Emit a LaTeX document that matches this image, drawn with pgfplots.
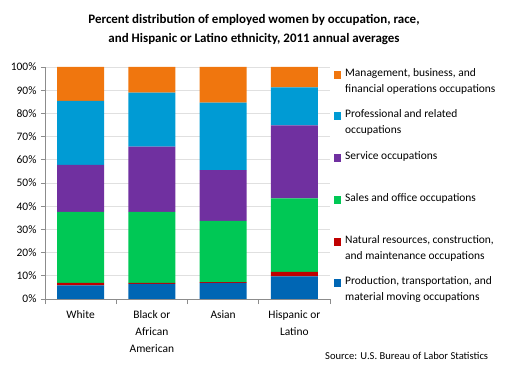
\documentclass[border=0pt]{standalone}
\usepackage{pgfplots}
\pgfplotsset{compat=1.18}
\usepackage{fontspec}
\setmainfont{Carlito}
\definecolor{cMgmt}{HTML}{F0760E}
\definecolor{cProf}{HTML}{009BD4}
\definecolor{cServ}{HTML}{7030A0}
\definecolor{cSales}{HTML}{00C855}
\definecolor{cNat}{HTML}{C00000}
\definecolor{cProd}{HTML}{0066B4}
\definecolor{axgray}{HTML}{8C8C8C}
\begin{document}
\begin{tikzpicture}
\path[use as bounding box] (0bp,0bp) rectangle (508bp,375bp);
\node[font=\bfseries\fontsize{13}{19}\selectfont, align=center] at (254bp,345bp)
  {Percent distribution of employed women by occupation, race,\\and Hispanic or Latino ethnicity, 2011 annual averages};
\begin{axis}[
  at={(45bp,76bp)}, anchor=south west,
  width=285bp, height=232bp, scale only axis,
  ybar stacked, bar width=47bp,
  xmin=-0.5, xmax=3.5, ymin=0, ymax=100,
  xtick={0,1,2,3},
  xticklabels={White, Black or\\African\\American, Asian, Hispanic or\\Latino},
  xticklabel style={align=center, font=\fontsize{11.5}{17}\selectfont, yshift=-4bp},
  major x tick style={draw=none},
  minor xtick={-0.5,0.5,1.5,2.5,3.5},
  minor tick length=5bp,
  major tick length=4bp,
  tick align=outside,
  ytick={0,10,...,100},
  yticklabel={\pgfmathprintnumber{\tick}\%},
  yticklabel style={font=\fontsize{11.5}{12}\selectfont, xshift=-1bp},
  /pgf/number format/assume math mode=true,
  ymajorgrids, grid style={draw=black!12, line width=0.8pt},
  axis x line*=bottom, axis y line*=left,
  axis line style={draw=axgray, line width=0.8pt, -},
  tick style={draw=axgray, line width=0.8pt},
  every axis plot/.append style={draw=none},
]
\addplot[fill=cProd] coordinates {(0,5.9) (1,6.5) (2,6.9) (3,9.8)};
\addplot[fill=cNat] coordinates {(0,1.0) (1,0.4) (2,0.4) (3,1.9)};
\addplot[fill=cSales] coordinates {(0,30.7) (1,30.7) (2,26.4) (3,31.7)};
\addplot[fill=cServ] coordinates {(0,20.2) (1,28.1) (2,21.8) (3,31.4)};
\addplot[fill=cProf] coordinates {(0,27.6) (1,23.3) (2,29.1) (3,16.4)};
\addplot[fill=cMgmt] coordinates {(0,14.6) (1,11.0) (2,15.4) (3,8.8)};
\end{axis}
% legend
\begin{scope}[every node/.style={anchor=north west, align=left, inner sep=0pt, font=\fontsize{11.5}{16}\selectfont}]
\fill[cMgmt] (334bp,296bp) rectangle +(7bp,8bp);
\node at (345bp,307bp) {Management, business, and\\financial operations occupations};
\fill[cProf] (334bp,254.5bp) rectangle +(7bp,8bp);
\node at (345bp,265.5bp) {Professional and related\\occupations};
\fill[cServ] (334bp,213bp) rectangle +(7bp,8bp);
\node at (345bp,224bp) {Service occupations};
\fill[cSales] (334bp,171bp) rectangle +(7bp,8bp);
\node at (345bp,182bp) {Sales and office occupations};
\fill[cNat] (334bp,129bp) rectangle +(7bp,8bp);
\node at (345bp,140bp) {Natural resources, construction,\\and maintenance occupations};
\fill[cProd] (334bp,87.5bp) rectangle +(7bp,8bp);
\node at (345bp,98.5bp) {Production, transportation, and\\material moving occupations};
\end{scope}
\node[anchor=west, inner sep=0pt, font=\fontsize{10.6}{12}\selectfont] at (325bp,19bp) {Source: U.S. Bureau of Labor Statistics};
\end{tikzpicture}
\end{document}
